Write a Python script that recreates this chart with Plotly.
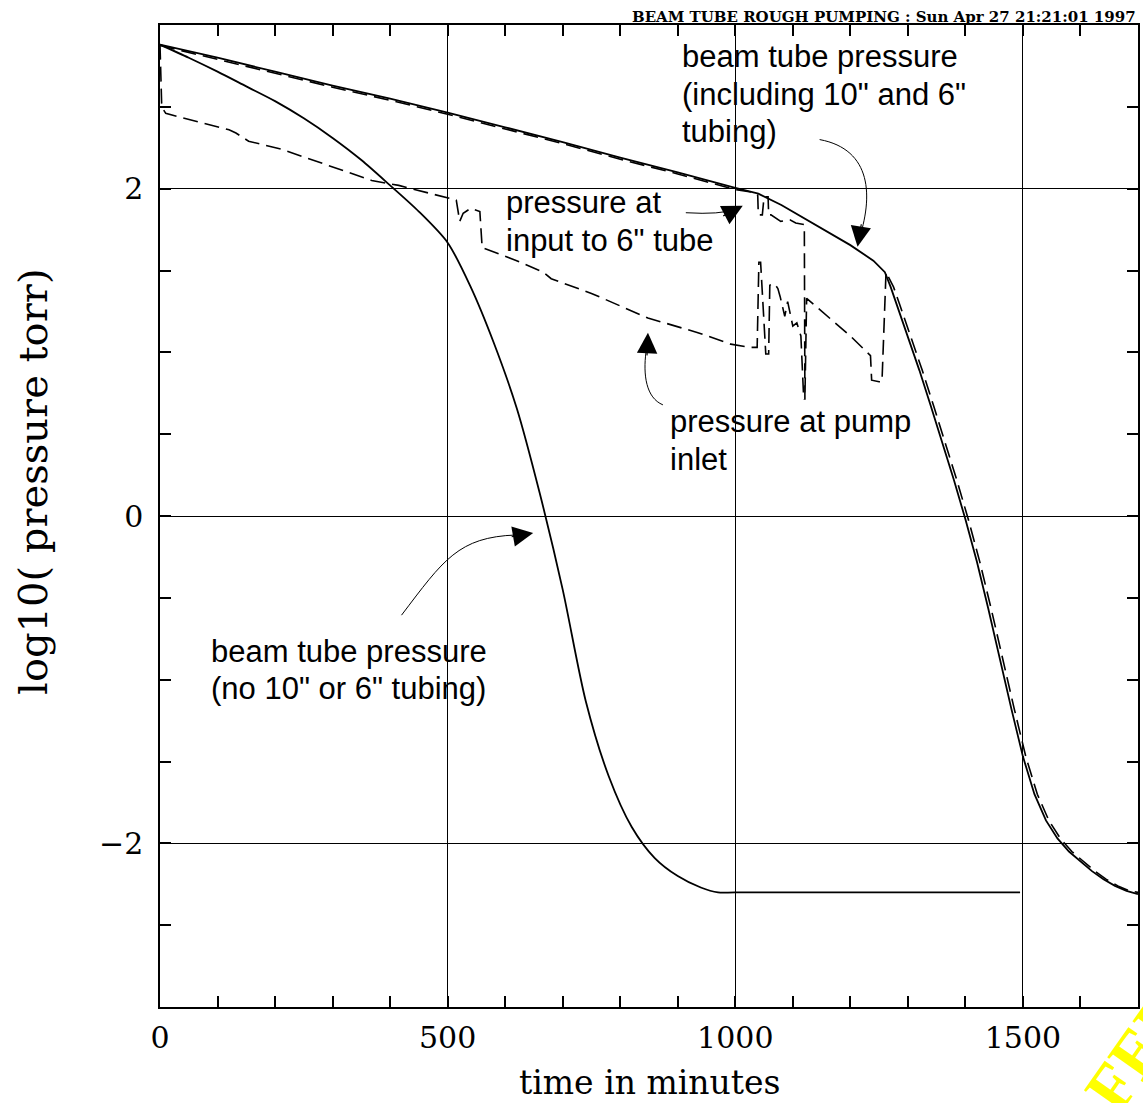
import plotly.graph_objects as go

# ---- data: log10(pressure / torr) versus time in minutes ----
# beam tube pressure, no 10" or 6" tubing
t_bare = [0, 50, 100, 150, 200, 250, 300, 350, 400, 450, 500, 540, 580, 620, 660,
          700, 740, 780, 820, 860, 900, 940, 970, 1000, 1495]
p_bare = [2.88, 2.80, 2.715, 2.625, 2.535, 2.43, 2.31, 2.175, 2.02, 1.86, 1.67,
          1.40, 1.06, 0.66, 0.14, -0.45, -1.13, -1.59, -1.90, -2.09, -2.20, -2.27,
          -2.30, -2.30, -2.30]

# beam tube pressure, including 10" and 6" tubing
t_tube = [0, 100, 200, 300, 400, 500, 600, 700, 800, 900, 1000, 1040, 1080, 1120,
          1160, 1200, 1240, 1260, 1270, 1280, 1300, 1320, 1340, 1360, 1380, 1400,
          1420, 1440, 1460, 1480, 1500, 1520, 1540, 1560, 1580, 1600, 1620, 1640,
          1660, 1680, 1700]
p_tube = [2.88, 2.80, 2.715, 2.63, 2.55, 2.465, 2.375, 2.285, 2.19, 2.10, 2.005,
          1.97, 1.90, 1.82, 1.74, 1.655, 1.56, 1.49, 1.40, 1.30, 1.10, 0.89, 0.67,
          0.45, 0.22, -0.02, -0.28, -0.57, -0.88, -1.18, -1.47, -1.70, -1.86, -1.97,
          -2.05, -2.11, -2.17, -2.22, -2.26, -2.29, -2.31]

# pressure at input to 6" tube
t_input = [0, 100, 200, 300, 400, 500, 600, 700, 800, 900, 1000, 1035, 1039, 1040,
           1047, 1050, 1057, 1058, 1062, 1079, 1095, 1105, 1120, 1121, 1124, 1160,
           1200, 1235, 1237, 1250, 1255, 1262, 1275, 1285, 1305, 1325, 1345, 1365,
           1385, 1405, 1425, 1445, 1465, 1485, 1505, 1525, 1545, 1565, 1585, 1605,
           1625, 1645, 1665, 1685, 1700]
p_input = [2.875, 2.79, 2.705, 2.62, 2.54, 2.455, 2.365, 2.275, 2.18, 2.09, 1.995,
           1.975, 1.96, 1.84, 1.84, 1.95, 1.95, 1.84, 1.84, 1.80, 1.81, 1.79, 1.78,
           0.71, 1.33, 1.22, 1.10, 0.98, 0.83, 0.82, 0.82, 1.49, 1.40, 1.30, 1.10,
           0.89, 0.67, 0.45, 0.22, -0.02, -0.28, -0.57, -0.88, -1.18, -1.47, -1.70,
           -1.86, -1.97, -2.05, -2.11, -2.17, -2.22, -2.26, -2.29, -2.30]

# pressure at pump inlet
t_pump = [0, 3, 10, 120, 132, 154, 212, 368, 415, 479, 515, 521, 527, 540, 556, 560,
          575, 620, 666, 680, 750, 848, 935, 992, 1025, 1038, 1041, 1044, 1053, 1058,
          1060, 1068, 1074, 1078, 1086, 1091, 1100, 1107, 1114, 1119]
p_pump = [2.88, 2.50, 2.46, 2.36, 2.34, 2.29, 2.24, 2.05, 2.02, 1.96, 1.93, 1.80,
          1.85, 1.88, 1.86, 1.64, 1.62, 1.56, 1.49, 1.45, 1.36, 1.21, 1.12, 1.05,
          1.03, 1.03, 1.55, 1.55, 0.99, 0.99, 1.41, 1.42, 1.39, 1.34, 1.22, 1.31,
          1.16, 1.18, 1.10, 0.71]

x_ticks = [0, 500, 1000, 1500]
y_ticks = [-2, 0, 2]

SERIF = "DejaVu Serif"
SANS = "Liberation Sans, Arial, sans-serif"
DASH = "15px,7px"

fig = go.Figure()
fig.add_trace(go.Scatter(x=t_bare, y=p_bare, mode="lines",
                         line=dict(color="black", width=1.8, shape="spline", smoothing=0.8)))
fig.add_trace(go.Scatter(x=t_tube, y=p_tube, mode="lines",
                         line=dict(color="black", width=1.8)))
fig.add_trace(go.Scatter(x=t_input, y=p_input, mode="lines",
                         line=dict(color="black", width=1.6, dash=DASH)))
fig.add_trace(go.Scatter(x=t_pump, y=p_pump, mode="lines",
                         line=dict(color="black", width=1.6, dash=DASH)))

axis_common = dict(
    showline=True, linecolor="black", linewidth=1.5, mirror="allticks",
    ticks="inside", ticklen=11, tickwidth=1.5, tickcolor="black",
    showgrid=True, gridcolor="black", gridwidth=1, zeroline=False,
    tickfont=dict(family=SERIF, size=30, color="black"),
    minor=dict(ticks="inside", ticklen=11, tickwidth=1.5, tickcolor="black", showgrid=False),
)

fig.update_xaxes(range=[0, 1700], tickvals=x_ticks, ticktext=[str(v) for v in x_ticks],
                 ticklabelstandoff=3, **axis_common)
fig.update_xaxes(minor_dtick=100, minor_tick0=0)
fig.update_yaxes(range=[-3, 3], tickvals=y_ticks,
                 ticktext=[("\u2212" + str(-v)) if v < 0 else str(v) for v in y_ticks],
                 ticklabelstandoff=9, **axis_common)
fig.update_yaxes(minor_dtick=0.5, minor_tick0=0)

annotations = []

def label(lines, x, y0, step=0.229):
    for i, txt in enumerate(lines):
        annotations.append(dict(x=x, y=y0 - i * step, xref="x", yref="y", text=txt,
                                showarrow=False, xanchor="left", yanchor="middle",
                                font=dict(family=SANS, size=31, color="black")))

label(["beam tube pressure", "(including 10\" and 6\"", "tubing)"], 904, 2.807)
label(["pressure at", "input to 6\" tube"], 598, 1.914)
label(["pressure at pump", "inlet"], 883, 0.575)
label(["beam tube pressure", "(no 10\" or 6\" tubing)"], 85, -0.826)

# arrowheads at the end of each curved pointer
def head(x, y, ax, ay):
    annotations.append(dict(x=x, y=y, xref="x", yref="y", ax=ax, ay=ay, text="",
                            showarrow=True, arrowhead=2, arrowsize=3.4, arrowwidth=1.2,
                            arrowcolor="black", standoff=0, startstandoff=0))

head(1212.5, 1.645, 4, -24)
head(1013, 1.896, -21, 11)
head(848.2, 1.119, -1, 24)
head(648.7, -0.104, -23, 4)

# axis titles
annotations.append(dict(x=0.501, y=-0.077, xref="paper", yref="paper", text="time in minutes",
                        showarrow=False, xanchor="center", yanchor="middle",
                        font=dict(family=SERIF, size=33, color="black")))
annotations.append(dict(x=-0.1306, y=0.535, xref="paper", yref="paper",
                        text="log10( pressure torr)", textangle=-90,
                        showarrow=False, xanchor="center", yanchor="middle",
                        font=dict(family=SERIF, size=40, color="black")))
# header
annotations.append(dict(x=1, y=1, xref="paper", yref="paper", yshift=-3,
                        text="BEAM TUBE ROUGH PUMPING : Sun Apr 27 21:21:01 1997",
                        showarrow=False, xanchor="right", yanchor="bottom",
                        font=dict(family=SERIF, size=15, color="black", weight="bold")))
# stamp in the corner
annotations.append(dict(x=1.066, y=0.05, xref="paper", yref="paper", text="FERMILAB",
                        textangle=-55, showarrow=False, xanchor="center", yanchor="middle",
                        font=dict(family="Liberation Serif", size=66, color="#ffff00",
                                  weight="bold")))

curves = [
    "M 1146.6,2.30 C 1238,2.24 1240,1.95 1214,1.68",
    "M 914,1.853 Q 975,1.84 1000,1.875",
    "M 874.2,0.679 C 844.8,0.722 839.6,0.862 844.8,1.003",
    "M 419.8,-0.606 C 492.6,-0.269 518.6,-0.128 619.0,-0.116",
]
shapes = [dict(type="path", path=p, xref="x", yref="y",
               line=dict(color="black", width=1)) for p in curves]

fig.update_layout(
    width=1143, height=1103,
    margin=dict(l=160, r=3, t=25, b=96),
    paper_bgcolor="white", plot_bgcolor="white",
    showlegend=False,
    annotations=annotations,
    shapes=shapes,
)

fig.write_html("out.html")
